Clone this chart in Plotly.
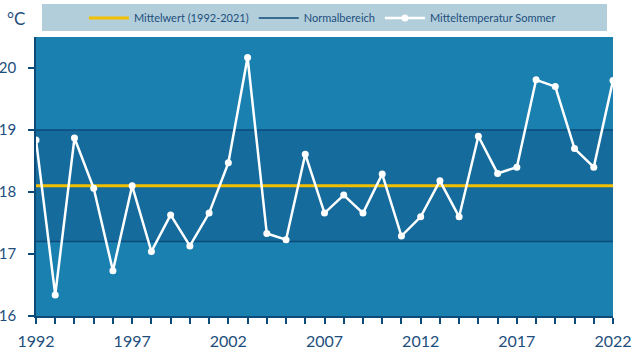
import plotly.graph_objects as go

years = list(range(1992, 2023))
temps = [18.84, 16.34, 18.87, 18.06, 16.73, 18.10, 17.04, 17.63, 17.13, 17.66,
         18.47, 20.17, 17.33, 17.23, 18.61, 17.66, 17.95, 17.66, 18.29, 17.29,
         17.60, 18.18, 17.60, 18.90, 18.30, 18.40, 19.81, 19.70, 18.70, 18.40, 19.80]
mean_value = 18.1
normal_low = 17.2
normal_high = 19.0
x_ticks = [1992, 1997, 2002, 2007, 2012, 2017, 2022]
y_ticks = [16, 17, 18, 19, 20]

DARK = "#1d4e7c"
x_span = [years[0], years[-1]]

fig = go.Figure()

# Normal range band
fig.add_trace(go.Scatter(x=x_span, y=[normal_low] * 2, mode="lines",
                         line=dict(color="#0c4a7a", width=1.5),
                         name="Normalbereich", legendrank=2,
                         hoverinfo="skip"))
fig.add_trace(go.Scatter(x=x_span, y=[normal_high] * 2, mode="lines",
                         line=dict(color="#0c4a7a", width=1.5),
                         fill="tonexty", fillcolor="rgba(6,45,95,0.25)",
                         name="Normalbereich", showlegend=False,
                         hoverinfo="skip"))
# Mean line
fig.add_trace(go.Scatter(x=x_span, y=[mean_value] * 2, mode="lines",
                         line=dict(color="#f2bf00", width=3),
                         name="Mittelwert (1992-2021)", legendrank=1))
# Summer mean temperature
fig.add_trace(go.Scatter(x=years, y=temps, mode="lines+markers",
                         line=dict(color="white", width=2.5),
                         marker=dict(color="white", size=7),
                         name="Mitteltemperatur Sommer", legendrank=3))

# Legend background box
fig.add_shape(type="rect", xref="paper", yref="paper",
              x0=0.0104, x1=0.9896, y0=1.0215, y1=1.118,
              fillcolor="#b2cedb", line=dict(width=0), layer="below")

fig.add_annotation(text="°C", xref="paper", yref="paper", x=-0.035, y=1.066,
                   xanchor="center", yanchor="middle", showarrow=False,
                   font=dict(family="Lato", size=17, color=DARK))

fig.update_layout(
    width=632, height=355,
    margin=dict(l=36, r=19, t=37, b=39, autoexpand=False),
    paper_bgcolor="white",
    plot_bgcolor="#1a80b0",
    font=dict(family="Lato", color=DARK),
    showlegend=True,
    legend=dict(orientation="h", x=0.083, y=1.068, xanchor="left", yanchor="middle",
                bgcolor="rgba(0,0,0,0)", font=dict(size=11, color=DARK),
                itemwidth=40, traceorder="normal"),
    xaxis=dict(range=x_span, tickmode="array", tickvals=x_ticks,
               ticks="outside", ticklen=6, tickcolor="#0c4a7a", tickwidth=1.5,
               showgrid=False, zeroline=False, showline=True, linecolor="#0c4a7a",
               linewidth=1.5, tickfont=dict(size=16, color=DARK), automargin=False,
               ticklabelstandoff=4,
               minor=dict(dtick=1, tick0=1992, ticks="outside", ticklen=6,
                          tickcolor="#0c4a7a", tickwidth=1.5, showgrid=False)),
    yaxis=dict(range=[16, 20.5], tickmode="array", tickvals=y_ticks,
               ticks="outside", ticklen=6, tickcolor="#0c4a7a", tickwidth=1.5,
               showgrid=False, zeroline=False, showline=True, linecolor="#0c4a7a",
               linewidth=1.5, tickfont=dict(size=15, color=DARK), automargin=False,
               ticklabelstandoff=9),
)

fig.write_html("out.html", config={"displayModeBar": False},
               post_script="document.body.style.margin='0';")
